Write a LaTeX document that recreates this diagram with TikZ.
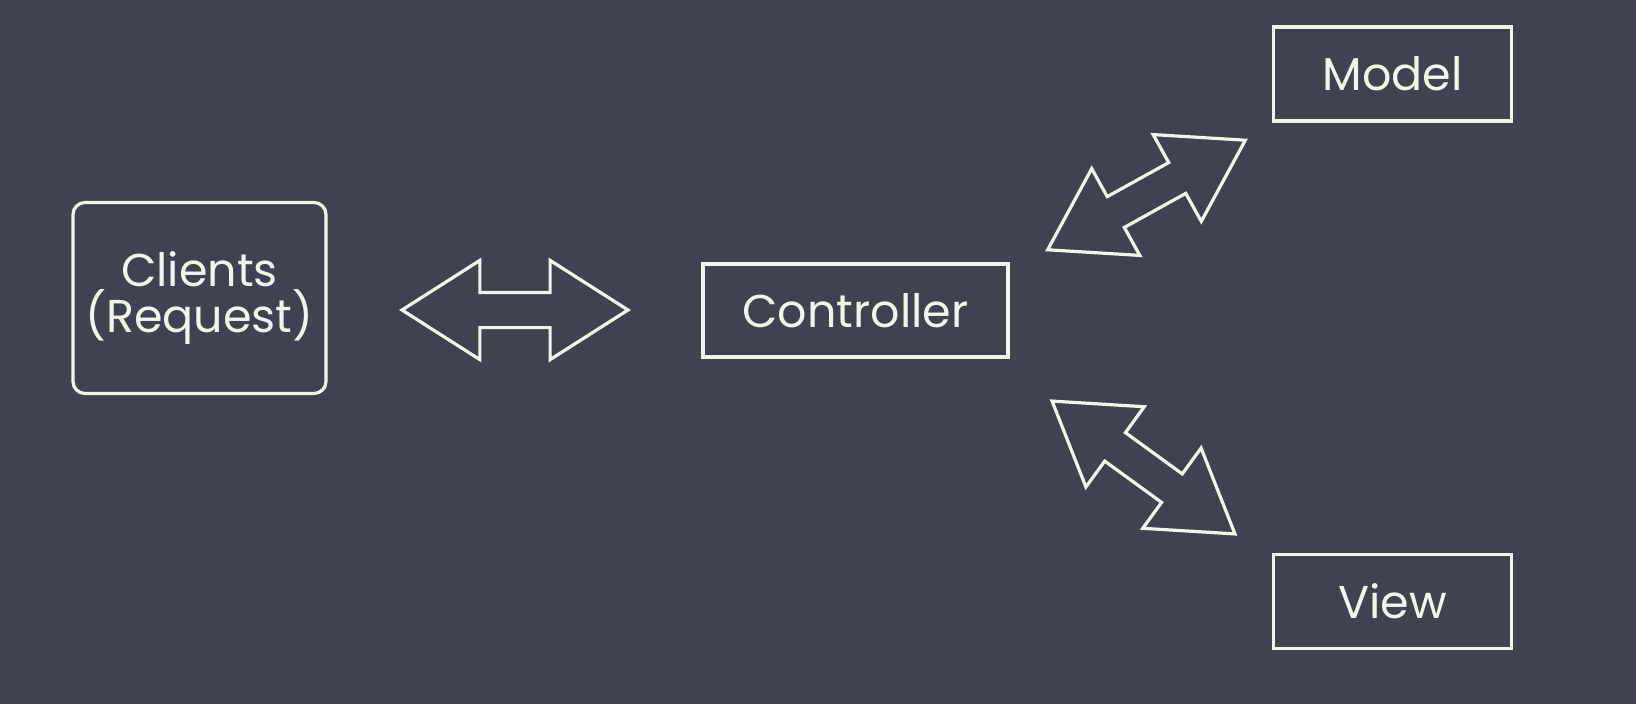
\documentclass[tikz,border=0pt]{standalone}
\usepackage{fontspec}
\setmainfont{Poppins}
\usetikzlibrary{shapes.arrows, positioning}

\definecolor{board}{RGB}{62,67,79}
\definecolor{chalk}{RGB}{244,244,238}

\begin{document}
\begin{tikzpicture}[
x=1pt, y=-1pt,
box/.style={rectangle, draw=chalk, line width=3.2pt, text=chalk, align=center, font=\fontsize{46}{46}\selectfont, minimum width=238pt, minimum height=94pt},
link/.style={double arrow, draw=chalk, line width=3.2pt, inner xsep=0pt, inner ysep=16pt, minimum height=226pt, double arrow head extend=32pt, double arrow tip angle=65}
]
\fill[board] (0,0) rectangle (1636,704);
\useasboundingbox (0,0) rectangle (1636,704);

\node[box, rounded corners=12pt, minimum width=253pt, minimum height=191pt] (clients) at (199.5,298) {Clients\\(Request)};
\node[box, minimum width=305pt, minimum height=93pt] (ctrl) at (855.5,310.5) {Controller};
\node[box] (model) at (1392.5,74) {Model};
\node[box, below=430pt of model] (view) {View};

% links between the parts
\node[link] (reqlink) at (515,310) {};
\node[link, rotate=29] (modellink) at (1146.5,195) {};
\node[link, rotate=-36] (viewlink) at (1143.5,467.5) {};
\end{tikzpicture}
\end{document}
